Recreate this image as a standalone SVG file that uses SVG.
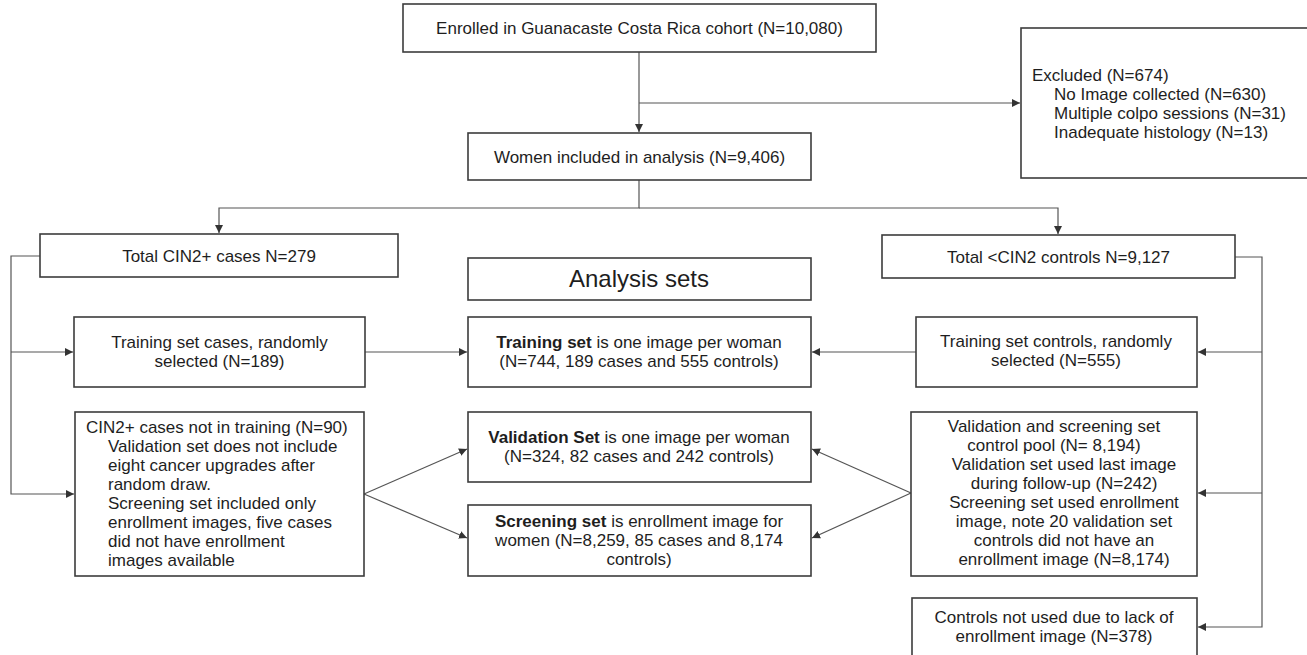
<svg xmlns="http://www.w3.org/2000/svg" width="1307" height="655" viewBox="0 0 1307 655">
<style>
  .box { fill: #ffffff; stroke: #3c3c3c; stroke-width: 1.6; }
  .t { font-family: "Liberation Sans", Arial, sans-serif; font-size: 17px; fill: #1e1e1e; }
  .c { text-anchor: middle; }
  .b { font-weight: bold; }
  .big { font-size: 24px; }
  .ln { fill: none; stroke: #555555; stroke-width: 1.2; }
</style>
<defs>
  <marker id="ah" viewBox="0 0 10 10" refX="10" refY="5" markerWidth="8" markerHeight="8" markerUnits="userSpaceOnUse" orient="auto">
    <path d="M0,0 L10,5 L0,10 Z" fill="#333333"/>
  </marker>
</defs>
<rect width="1307" height="655" fill="#ffffff"/>

<g id="connectors">
  <path class="ln" d="M639,52 V132" marker-end="url(#ah)"/>
  <path class="ln" d="M639,103 H1020" marker-end="url(#ah)"/>
  <path class="ln" d="M639,180 V208 H219 V233" marker-end="url(#ah)"/>
  <path class="ln" d="M639,208 H1058 V234" marker-end="url(#ah)"/>
  <path class="ln" d="M40,256 H11 V494 H74" marker-end="url(#ah)"/>
  <path class="ln" d="M11,352 H73" marker-end="url(#ah)"/>
  <path class="ln" d="M1235,257 H1262 V627 H1198" marker-end="url(#ah)"/>
  <path class="ln" d="M1262,352 H1198" marker-end="url(#ah)"/>
  <path class="ln" d="M1262,493 H1198" marker-end="url(#ah)"/>
  <path class="ln" d="M365,352 H467" marker-end="url(#ah)"/>
  <path class="ln" d="M916,352 H812" marker-end="url(#ah)"/>
  <path class="ln" d="M364,494 L467,449" marker-end="url(#ah)"/>
  <path class="ln" d="M364,494 L467,538" marker-end="url(#ah)"/>
  <path class="ln" d="M911,493 L812,449" marker-end="url(#ah)"/>
  <path class="ln" d="M911,493 L812,538" marker-end="url(#ah)"/>
</g>

<g id="enrolled">
  <rect class="box" x="403" y="4" width="473" height="48"/>
  <text class="t c" x="639.5" y="34">Enrolled in Guanacaste Costa Rica cohort (N=10,080)</text>
</g>

<g id="excluded">
  <rect class="box" x="1021" y="28" width="300" height="150"/>
  <text class="t" x="1032" y="81">Excluded (N=674)</text>
  <text class="t" x="1054" y="100">No Image collected (N=630)</text>
  <text class="t" x="1054" y="119">Multiple colpo sessions (N=31)</text>
  <text class="t" x="1054" y="138">Inadequate histology (N=13)</text>
</g>

<g id="women">
  <rect class="box" x="468" y="133" width="343" height="47"/>
  <text class="t c" x="639.5" y="163">Women included in analysis (N=9,406)</text>
</g>

<g id="cases">
  <rect class="box" x="40" y="234" width="358" height="43"/>
  <text class="t c" x="219" y="262">Total CIN2+ cases N=279</text>
</g>

<g id="controls">
  <rect class="box" x="882" y="235" width="353" height="43"/>
  <text class="t c" x="1058.5" y="263">Total &lt;CIN2 controls N=9,127</text>
</g>

<g id="analysis-sets">
  <rect class="box" x="468" y="258" width="343" height="42"/>
  <text class="t c big" x="639" y="287">Analysis sets</text>
</g>

<g id="training-cases">
  <rect class="box" x="74" y="317" width="291" height="70"/>
  <text class="t c" x="219.5" y="348">Training set cases, randomly</text>
  <text class="t c" x="219.5" y="367">selected (N=189)</text>
</g>

<g id="training-set">
  <rect class="box" x="468" y="317" width="343" height="70"/>
  <text class="t c" x="639" y="348"><tspan class="b">Training set</tspan> is one image per woman</text>
  <text class="t c" x="639" y="367">(N=744, 189 cases and 555 controls)</text>
</g>

<g id="training-controls">
  <rect class="box" x="916" y="317" width="281" height="70"/>
  <text class="t c" x="1056" y="347">Training set controls, randomly</text>
  <text class="t c" x="1056" y="366">selected (N=555)</text>
</g>

<g id="cases-not-training">
  <rect class="box" x="75" y="412" width="289" height="164"/>
  <text class="t" x="86" y="432.5">CIN2+ cases not in training (N=90)</text>
  <text class="t" x="108" y="451.5">Validation set does not include</text>
  <text class="t" x="108" y="470.5">eight cancer upgrades after</text>
  <text class="t" x="108" y="489.5">random draw.</text>
  <text class="t" x="108" y="508.5">Screening set included only</text>
  <text class="t" x="108" y="527.5">enrollment images, five cases</text>
  <text class="t" x="108" y="546.5">did not have enrollment</text>
  <text class="t" x="108" y="565.5">images available</text>
</g>

<g id="validation-set">
  <rect class="box" x="468" y="412" width="343" height="70"/>
  <text class="t c" x="639" y="443"><tspan class="b">Validation Set</tspan> is one image per woman</text>
  <text class="t c" x="639" y="462">(N=324, 82 cases and 242 controls)</text>
</g>

<g id="screening-set">
  <rect class="box" x="468" y="505" width="343" height="71"/>
  <text class="t c" x="639" y="527"><tspan class="b">Screening set</tspan> is enrollment image for</text>
  <text class="t c" x="639" y="546">women (N=8,259, 85 cases and 8,174</text>
  <text class="t c" x="639" y="565">controls)</text>
</g>

<g id="control-pool">
  <rect class="box" x="911" y="412" width="286" height="164"/>
  <text class="t c" x="1054" y="432">Validation and screening set</text>
  <text class="t c" x="1054" y="451">control pool (N= 8,194)</text>
  <text class="t c" x="1064" y="470">Validation set used last image</text>
  <text class="t c" x="1064" y="489">during follow-up (N=242)</text>
  <text class="t c" x="1064" y="508">Screening set used enrollment</text>
  <text class="t c" x="1064" y="527">image, note 20 validation set</text>
  <text class="t c" x="1064" y="546">controls did not have an</text>
  <text class="t c" x="1064" y="565">enrollment image (N=8,174)</text>
</g>

<g id="controls-not-used">
  <rect class="box" x="912" y="598" width="285" height="70"/>
  <text class="t c" x="1054" y="623">Controls not used due to lack of</text>
  <text class="t c" x="1054" y="642">enrollment image (N=378)</text>
</g>
</svg>
